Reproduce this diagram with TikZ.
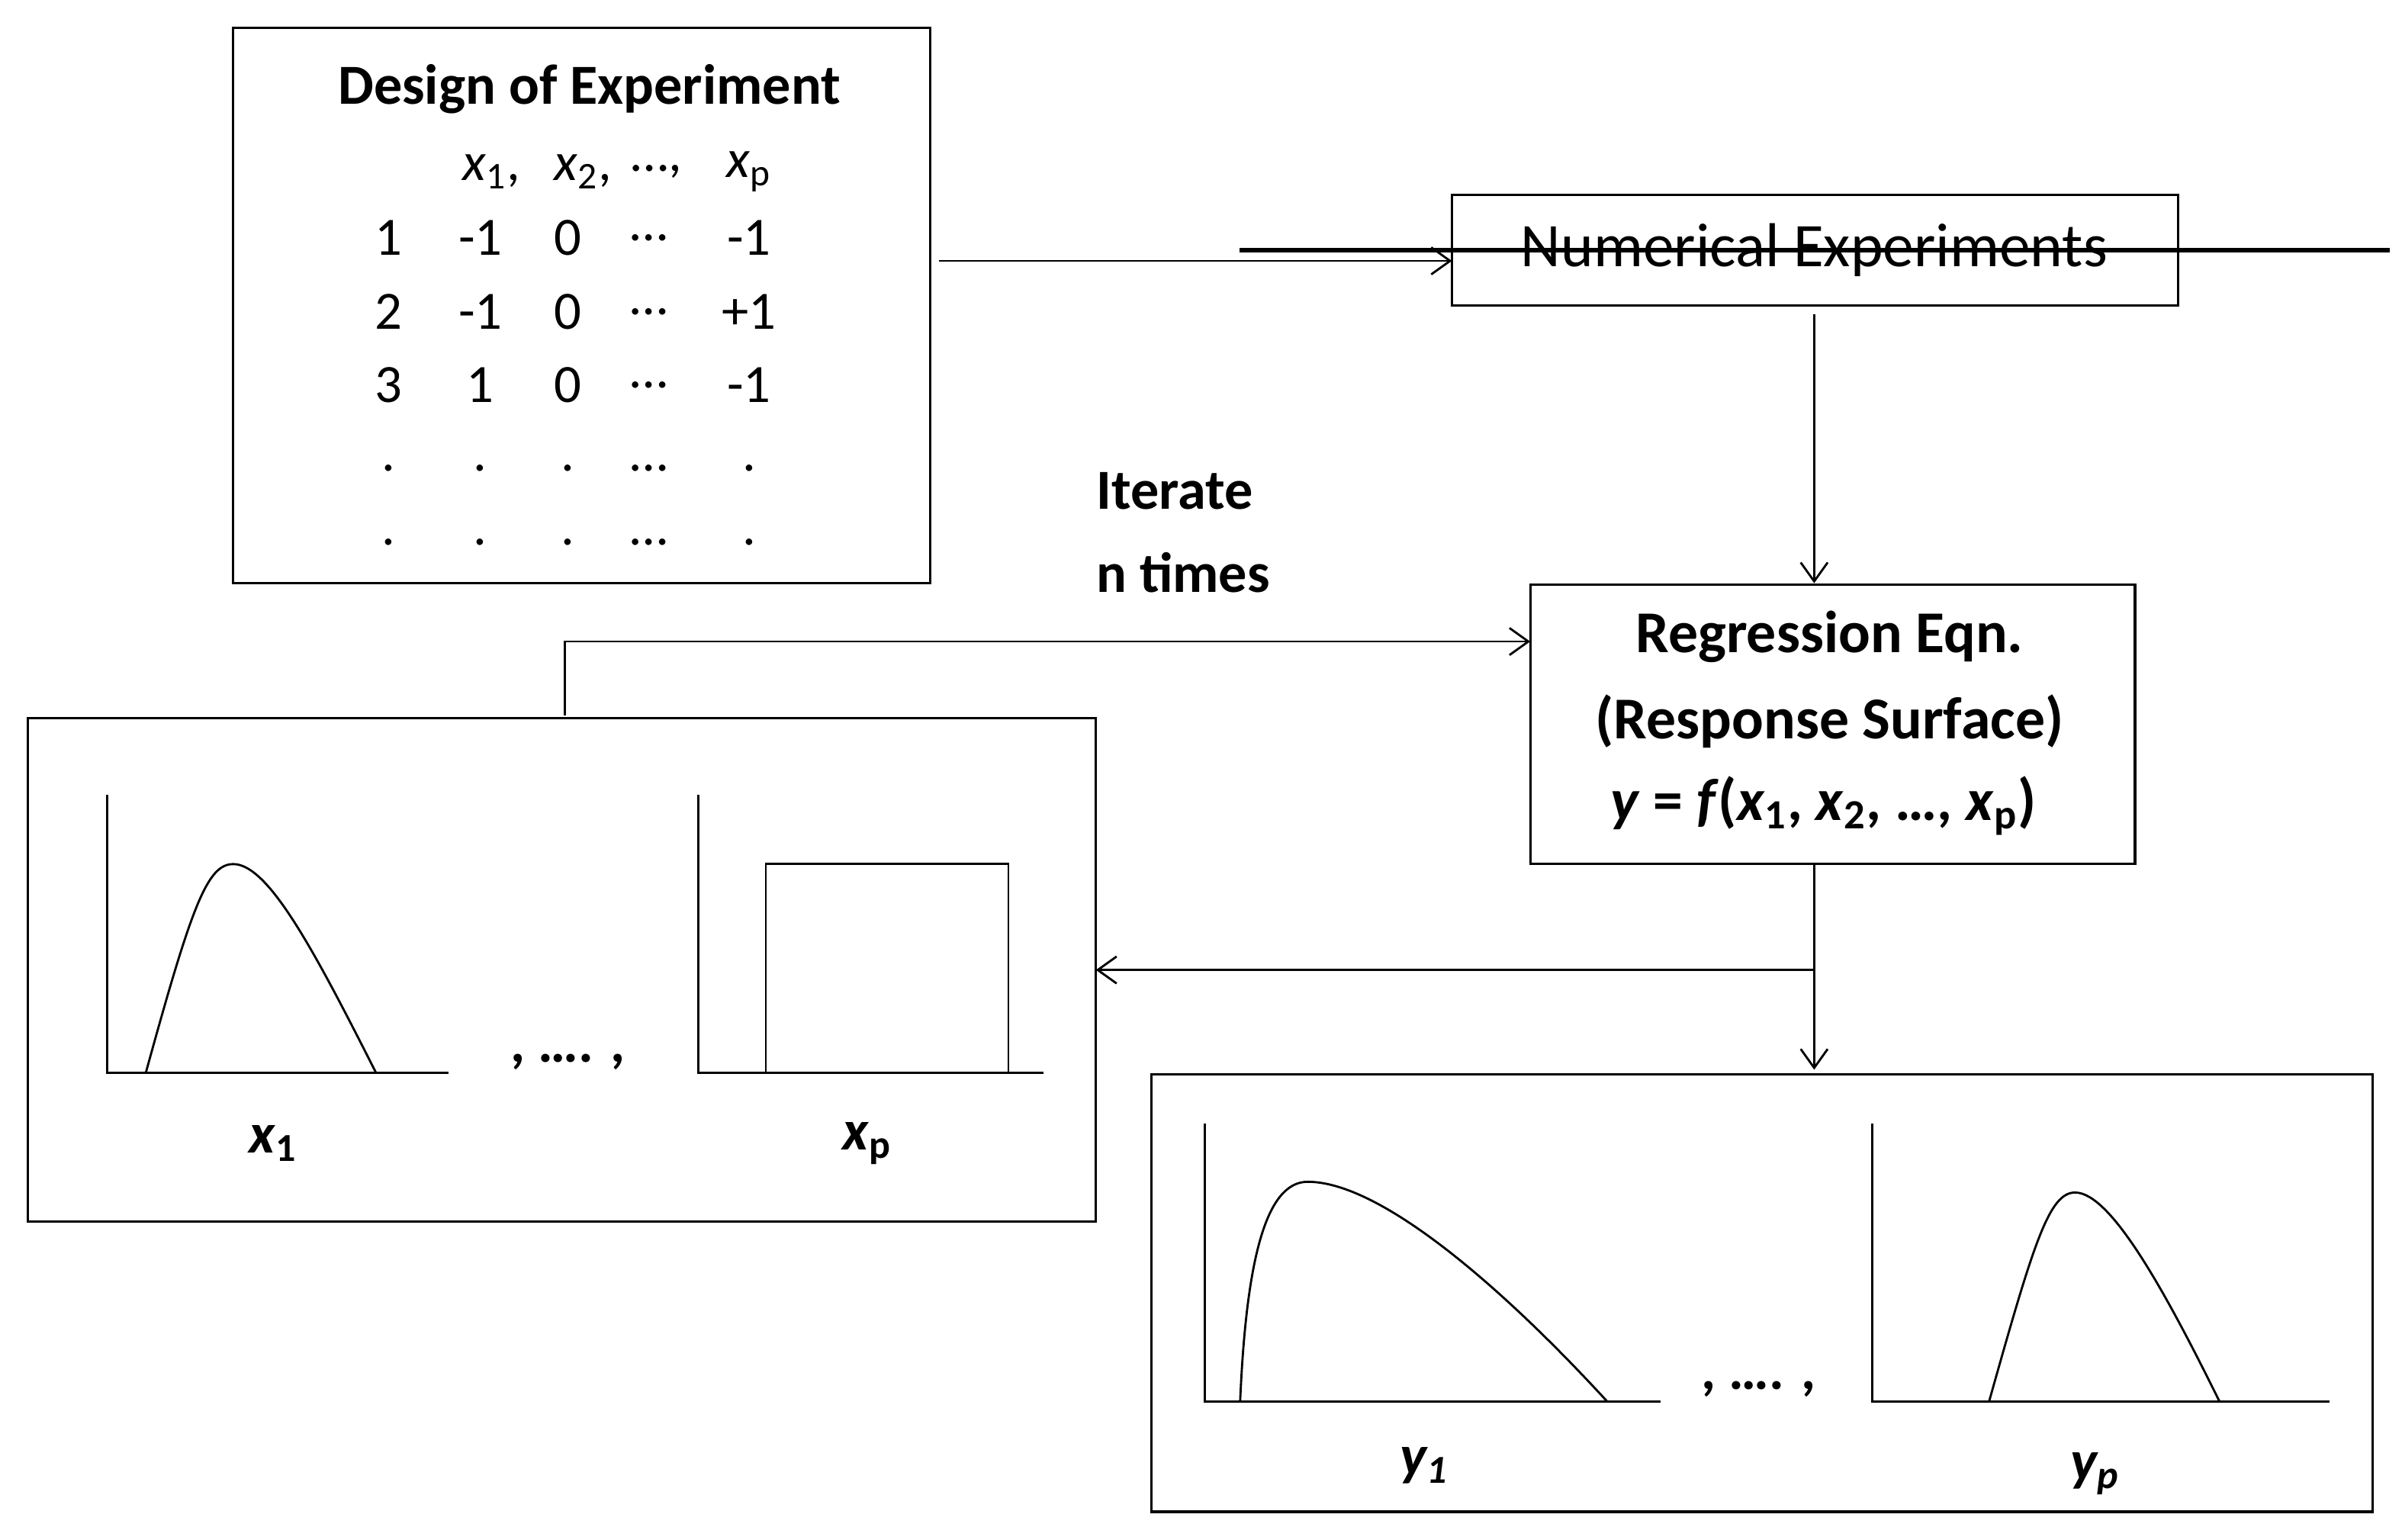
\documentclass[tikz,border=0pt]{standalone}
\usepackage{fontspec}
\setmainfont{Carlito}
\usetikzlibrary{arrows.meta}
\begin{document}
\begin{tikzpicture}[x=0.02cm,y=-0.02cm,
  box/.style={draw,line width=0.9pt},
  arr/.style={line width=0.8pt,-{Straight Barb[length=7pt,width=10pt]}},
  ln/.style={line width=0.8pt},
  t/.style={inner sep=0pt,font=\fontsize{20}{24}\selectfont},
  b/.style={inner sep=0pt,font=\fontsize{21}{25}\selectfont\bfseries}]
\useasboundingbox (0,0) rectangle (1565,1003);
% DOE
\draw[box] (152,18) rectangle (606,380);
\node[b] (doet) at (384,58) {Design of Experiment};
\foreach \x/\s [count=\i] in {315/$\mathit{x}_1$,,375/$\mathit{x}_2$,,425/…,,488/$\mathit{x}_{\mathrm{p}}$}{}
\node[t] (h1) at (320,112) {\textit{x}\textsubscript{1},};
\node[t] (h2) at (380,112) {\textit{x}\textsubscript{2},};
\node[t] (h3) at (428,112) {…,};
\node[t] (h4) at (488,112) {\textit{x}\textsubscript{p}};
\foreach \y/\a/\bb/\c/\d/\e [count=\i] in {155/1/-1/0/…/-1,203/2/-1/0/…/+1,251/3/1/0/…/-1,305/./././…/.,353/./././…/.}{
  \node[t] (r\i a) at (253,\y) {\a};
  \node[t] (r\i b) at (313,\y) {\bb};
  \node[t] (r\i c) at (370,\y) {\c};
  \node[t] (r\i d) at (423,\y) {\d};
  \node[t] (r\i e) at (488,\y) {\e};
}
\coordinate (doeout) at (612,170);
% Numerical experiments
\node[box,minimum width=473\pgflinewidth,inner sep=0pt] (ne) at (1182.5,163) {};
\draw[box] (946,127) rectangle (1419,199);
\node[t,font=\fontsize{23}{27}\selectfont] (net) at (1182,163) {Numerical Experiments};
\coordinate (nel) at (946,170);
\coordinate (neb) at (1182,205);
\draw[arr] (doeout) -- (nel);
% Regression
\draw[box] (997,381) rectangle (1391,563);
\node[b,font=\fontsize{22}{26}\selectfont\bfseries] (r1) at (1192,415) {Regression Eqn.};
\node[b,font=\fontsize{22}{26}\selectfont\bfseries] (r2) at (1192,470) {(Response Surface)};
\node[b,font=\fontsize{22}{26}\selectfont\bfseries] (r3) at (1188,525) {\textit{y} = \textit{f}(\textit{x}\textsubscript{1}, \textit{x}\textsubscript{2}, …, \textit{x}\textsubscript{p})};
\coordinate (rt) at (1182,380);
\coordinate (rl) at (997,418);
\coordinate (rb) at (1182,563);
\draw[arr] (neb) -- (rt);
% Iterate
\node[b,anchor=west] (it1) at (714,320) {Iterate};
\node[b,anchor=west] (it2) at (714,373) {n times};
% left box
\draw[box] (18,468) rectangle (714,796);
\coordinate (lt) at (368,466);
\coordinate (lr) at (714,632);
\draw[arr] (lt) |- (rl);
\coordinate (br) at (1182,632);
\coordinate (rbox) at (1182,697);
\draw[arr] (rb) -- (rbox);
\draw[arr] (br) -- (lr);
\draw[ln] (70,518) -- (70,699) -- (292,699);
\draw[ln] (95,699) .. controls (125,590) and (135,563) .. (152,563) .. controls (175,563) and (205,620) .. (245,699);
\draw[ln] (455,518) -- (455,699) -- (680,699);
\draw[ln] (499,699) -- (499,563) -- (657,563) -- (657,699);
\node[b] (ld) at (370,692) {, …. ,};
\node[b] (lx1) at (178,745) {\textit{x}\textsubscript{1}};
\node[b] (lxp) at (565,745) {\textit{x}\textsubscript{p}};
% right box
\draw[box] (750,700) rectangle (1546,985);
\draw[ln] (785,732) -- (785,913) -- (1082,913);
\draw[ln] (808,913) .. controls (812,820) and (825,770) .. (852,770) .. controls (900,770) and (980,840) .. (1047,913);
\draw[ln] (1220,732) -- (1220,913) -- (1518,913);
\draw[ln] (1296,913) .. controls (1325,810) and (1335,777) .. (1352,777) .. controls (1375,777) and (1410,840) .. (1446,913);
\node[b] (rd) at (1146,905) {, …. ,};
\node[b] (ry1) at (928,955) {\textit{y\textsubscript{1}}};
\node[b] (ryp) at (1365,960) {\textit{y\textsubscript{p}}};
\end{tikzpicture}
\end{document}
